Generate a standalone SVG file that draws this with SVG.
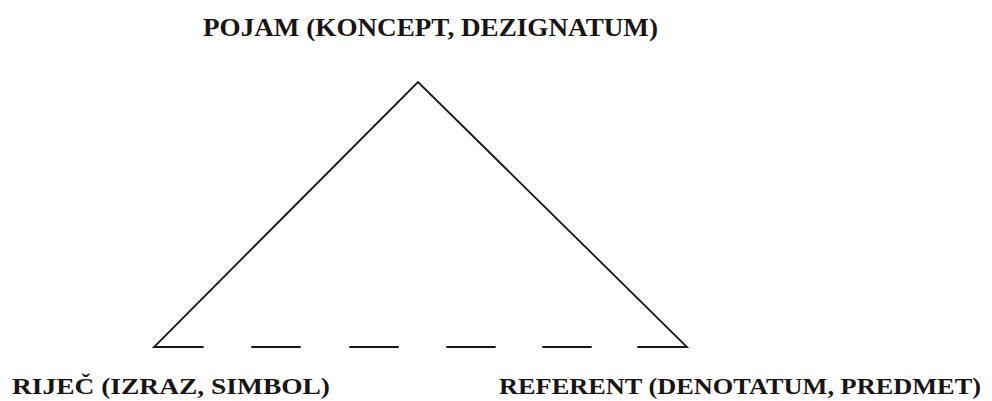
<svg xmlns="http://www.w3.org/2000/svg" width="992" height="401" viewBox="0 0 992 401">
<style>
text{font-family:"Liberation Serif",serif;font-weight:bold;fill:#1a1414}
.ln{stroke:#1a1414;stroke-width:1.8;fill:none;stroke-linecap:round}
</style>
<rect width="992" height="401" fill="#fff"/>
<g id="pojam"><text x="203" y="36" font-size="25" textLength="455" lengthAdjust="spacingAndGlyphs">POJAM (KONCEPT, DEZIGNATUM)</text></g>
<g id="rijec"><text x="12" y="394" font-size="24" textLength="318" lengthAdjust="spacingAndGlyphs">RIJEČ (IZRAZ, SIMBOL)</text></g>
<g id="referent"><text x="499" y="394" font-size="24" textLength="482" lengthAdjust="spacingAndGlyphs">REFERENT (DENOTATUM, PREDMET)</text></g>
<g id="connectors">
<polyline class="ln" points="203,347 154,347 418,82 687,347 638,347"/>
<line class="ln" x1="252" y1="347" x2="300" y2="347"/>
<line class="ln" x1="350" y1="347" x2="398" y2="347"/>
<line class="ln" x1="447" y1="347" x2="495" y2="347"/>
<line class="ln" x1="543" y1="347" x2="591" y2="347"/>
</g>
</svg>
